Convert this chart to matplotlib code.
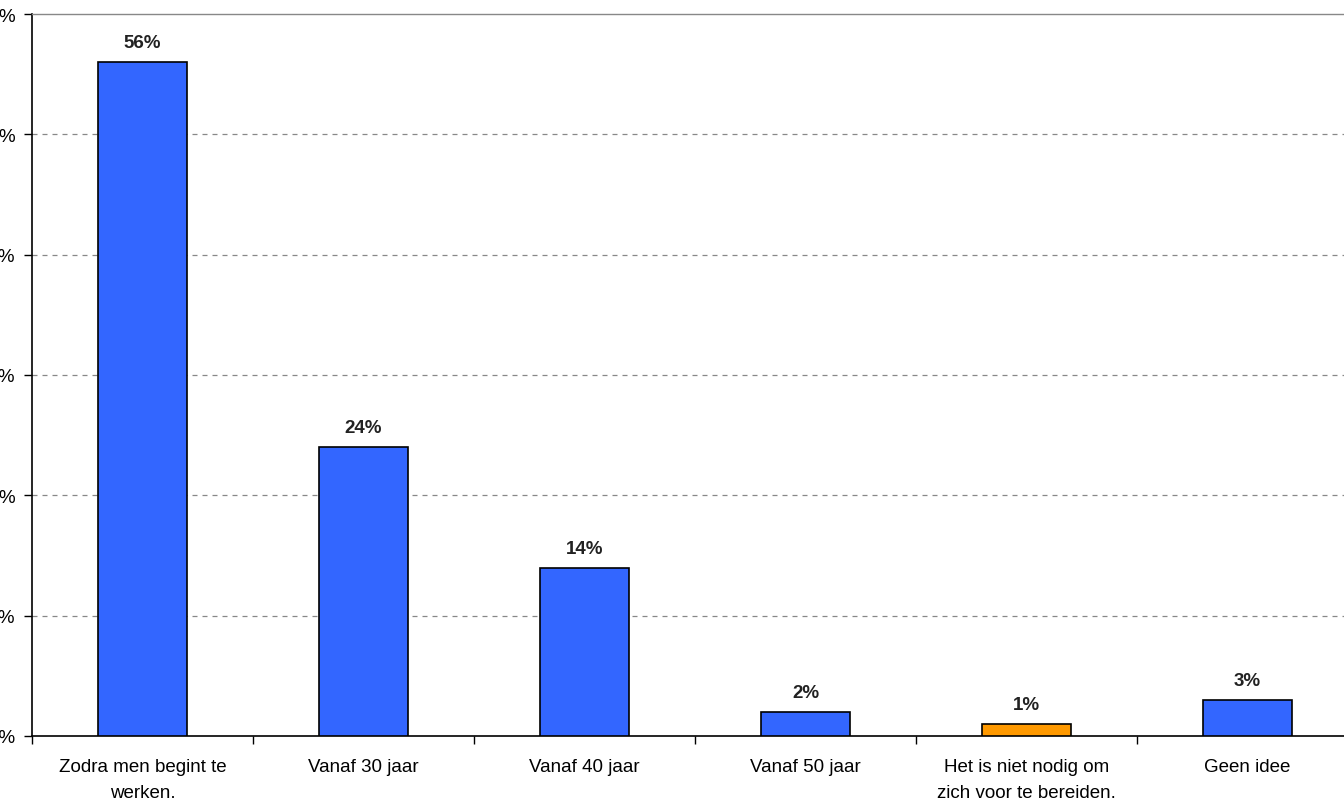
import matplotlib
matplotlib.use("Agg")
import matplotlib.pyplot as plt
import numpy as np

categories = ["Zodra men begint te\nwerken.", "Vanaf 30 jaar", "Vanaf 40 jaar",
              "Vanaf 50 jaar", "Het is niet nodig om\nzich voor te bereiden.", "Geen idee"]
values = [56, 24, 14, 2, 1, 3]
labels = ["56%", "24%", "14%", "2%", "1%", "3%"]
colors = ["#3366FF", "#3366FF", "#3366FF", "#3366FF", "#FF9900", "#3366FF"]
yticks = [0, 10, 20, 30, 40, 50, 60]
ytick_labels = ["0%", "10%", "20%", "30%", "40%", "50%", "60%"]

plt.rcParams['font.family'] = ['Liberation Sans', 'DejaVu Sans']

W, H = 1344, 803
fig = plt.figure(figsize=(W / 100, H / 100), dpi=100)
left, right, top, bottom = 32, 1358, 15, 737
ax = fig.add_axes([left / W, (H - bottom) / H, (right - left) / W, (bottom - top) / H])

x = np.arange(len(categories))
ax.bar(x, values, width=0.4, color=colors, edgecolor="black", linewidth=1.2, zorder=3)
for xi, v, lab in zip(x, values, labels):
    ax.annotate(lab, (xi, v), xytext=(0, 11), textcoords="offset pixels",
                ha="center", va="bottom", fontsize=13.5, fontweight="bold", color="#222222")

ax.set_xlim(-0.5, len(categories) - 0.5)
ax.set_ylim(0, 60)
ax.set_yticks(yticks)
ax.set_yticklabels(ytick_labels, fontsize=13.5)
ax.set_xticks(x)
ax.set_xticklabels(categories, fontsize=13.5, linespacing=1.7)
ax.set_xticks(np.arange(len(categories) + 1) - 0.5, minor=True)
ax.tick_params(axis="x", which="major", length=0, pad=16)
ax.tick_params(axis="x", which="minor", length=6, width=1, direction="out")
ax.tick_params(axis="y", length=6, width=1, direction="out", pad=6)

for yv in yticks[1:-1]:
    ax.axhline(yv, color="#888888", linestyle=(0, (4, 4)), linewidth=0.9, zorder=1)

ax.spines["top"].set_color("#888888")
ax.spines["top"].set_linewidth(1)
ax.spines["right"].set_visible(False)
ax.spines["left"].set_linewidth(1.2)
ax.spines["bottom"].set_linewidth(1.2)

fig.savefig("out.png", dpi=100)
